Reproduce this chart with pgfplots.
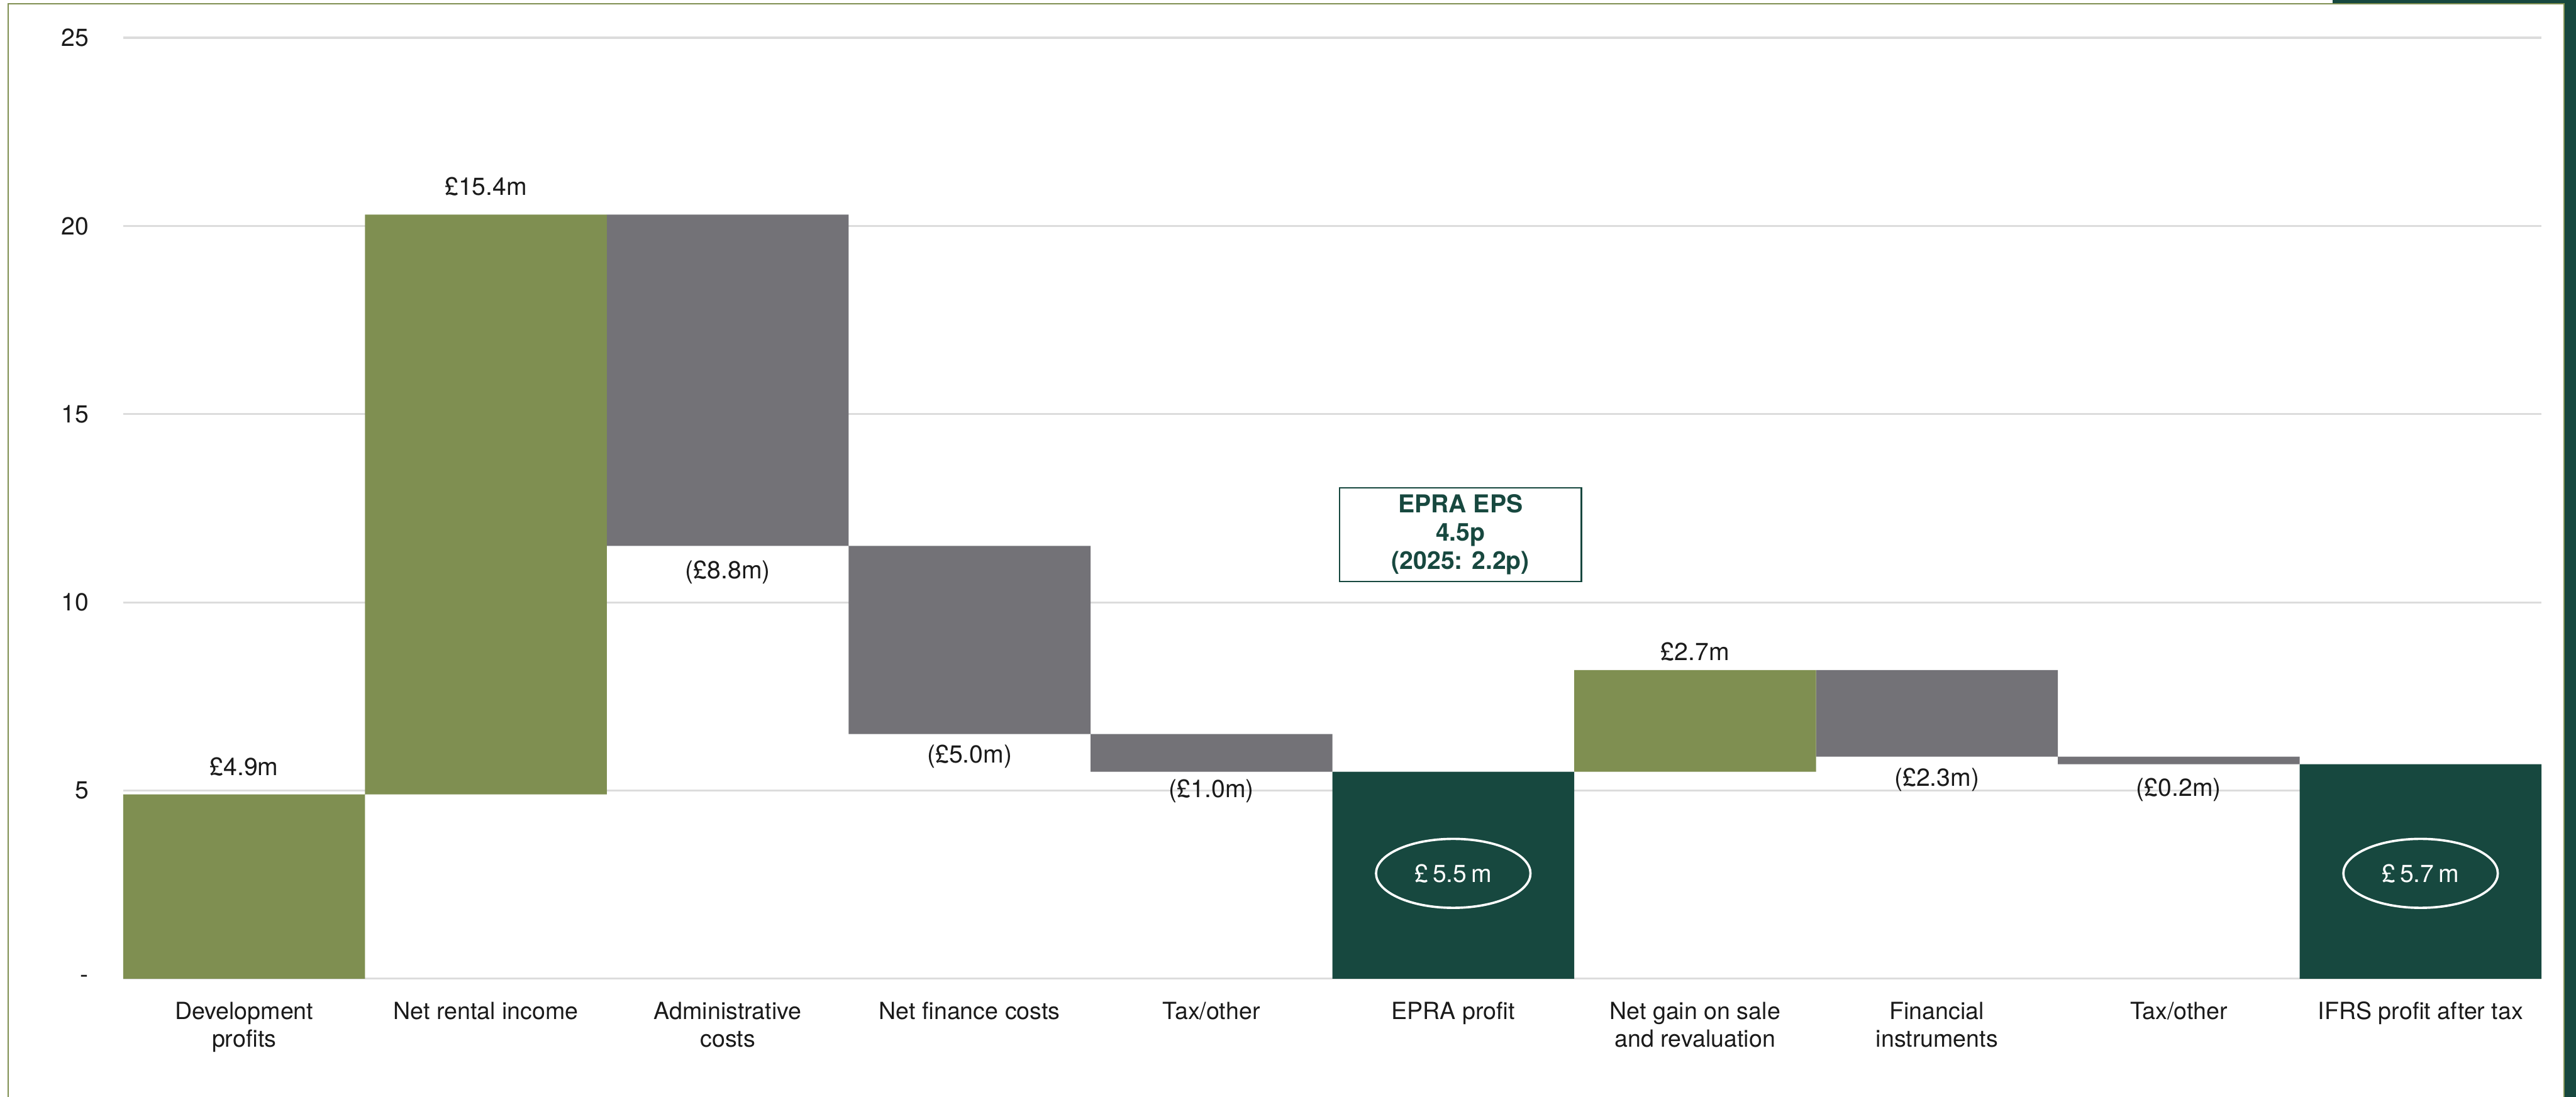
\documentclass[border=0pt]{standalone}
\usepackage{pgfplots}
\pgfplotsset{compat=1.18}
\usepackage{pgfplotstable}
\usepackage{fontspec}
\setmainfont{TeX Gyre Heros}
\usetikzlibrary{shapes.geometric}
\definecolor{ogreen}{HTML}{7F8F51}
\definecolor{ggray}{HTML}{737277}
\definecolor{dgreen}{HTML}{17483F}
\definecolor{gridgray}{HTML}{DCDCDC}
\definecolor{txt}{HTML}{1A1A1A}

\pgfplotstableread{
x base green gray dark
0 0    4.9  0   0
1 4.9  15.4 0   0
2 11.5 0    8.8 0
3 6.5  0    5.0 0
4 5.5  0    1.0 0
5 0    0    0   5.5
6 5.5  2.7  0   0
7 5.9  0    2.3 0
8 5.7  0    0.2 0
9 0    0    0   5.7
}\data

\begin{document}
\begin{tikzpicture}
\useasboundingbox (-37.5pt,-36pt) rectangle (746.5pt,298pt);
\fill[white] (-37.5pt,-36pt) rectangle (746.5pt,298pt);
\fill[dgreen] (743pt,-36pt) rectangle (746.5pt,298pt);
\fill[dgreen] (672.5pt,296.9pt) rectangle (746.5pt,298pt);
\draw[ogreen, line width=0.45pt] (-35pt,-36pt) -- (-35pt,296.8pt) -- (742.8pt,296.8pt) -- (742.8pt,-36pt);
\begin{axis}[
  at={(0,0)}, anchor=south west,
  scale only axis, width=736pt, height=286.5pt,
  xmin=-0.5, xmax=9.5, ymin=0, ymax=25,
  clip=false,
  axis line style={draw=none},
  major tick length=0pt,
  ytick={0,5,10,15,20,25},
  yticklabels={-,5,10,15,20,25},
  ymajorgrids,
  grid style={draw=gridgray, line width=0.6pt},
  xtick={0,1,2,3,4,5,6,7,8,9},
  xticklabels={{Development\\profits},{Net rental income},{Administrative\\costs},{Net finance costs},{Tax/other},{EPRA profit},{Net gain on sale\\and revaluation},{Financial\\instruments},{Tax/other},{IFRS profit after tax}},
  xticklabel style={align=center, font=\fontsize{7.2}{8.5}\selectfont, text=txt, yshift=-3.5pt},
  yticklabel style={font=\fontsize{7.5}{9}\selectfont, text=txt, xshift=-7pt},
  ybar stacked, bar width=1,
]
\addplot[draw=none, fill=none] table[x=x,y=base] {\data};
\addplot[draw=none, fill=ogreen] table[x=x,y=green] {\data};
\addplot[draw=none, fill=ggray] table[x=x,y=gray] {\data};
\addplot[draw=none, fill=dgreen] table[x=x,y=dark] {\data};

\tikzset{lbl/.style={font=\fontsize{7.5}{9}\selectfont, text=txt, inner sep=0pt}}
\node[lbl] at (axis cs:0,5.63) {£4.9m};
\node[lbl] at (axis cs:1,21.05) {£15.4m};
\node[lbl] at (axis cs:2,10.79) {(£8.8m)};
\node[lbl] at (axis cs:3,5.9) {(£5.0m)};
\node[lbl] at (axis cs:4,4.98) {(£1.0m)};
\node[lbl] at (axis cs:6,8.69) {£2.7m};
\node[lbl] at (axis cs:7,5.28) {(£2.3m)};
\node[lbl] at (axis cs:8,5.02) {(£0.2m)};
\coordinate (e1) at (axis cs:5,2.8);
\coordinate (e2) at (axis cs:9,2.8);
\coordinate (eb) at (axis cs:5.03,11.8);
\end{axis}
\node[ellipse, draw=white, line width=0.7pt, minimum width=47pt, minimum height=21pt, inner sep=0pt, text=white, font=\fontsize{7.5}{9}\selectfont] at (e1) {£\,5.5\,m};
\node[ellipse, draw=white, line width=0.7pt, minimum width=47pt, minimum height=21pt, inner sep=0pt, text=white, font=\fontsize{7.5}{9}\selectfont] at (e2) {£\,5.7\,m};
\node[draw=dgreen, fill=white, line width=0.5pt, text=dgreen, minimum width=73.6pt, minimum height=28.5pt, inner sep=0pt, align=center, font=\fontsize{7.5}{8.6}\selectfont\bfseries] at (eb) {EPRA EPS\\4.5p\\(2025: 2.2p)};
\end{tikzpicture}
\end{document}
